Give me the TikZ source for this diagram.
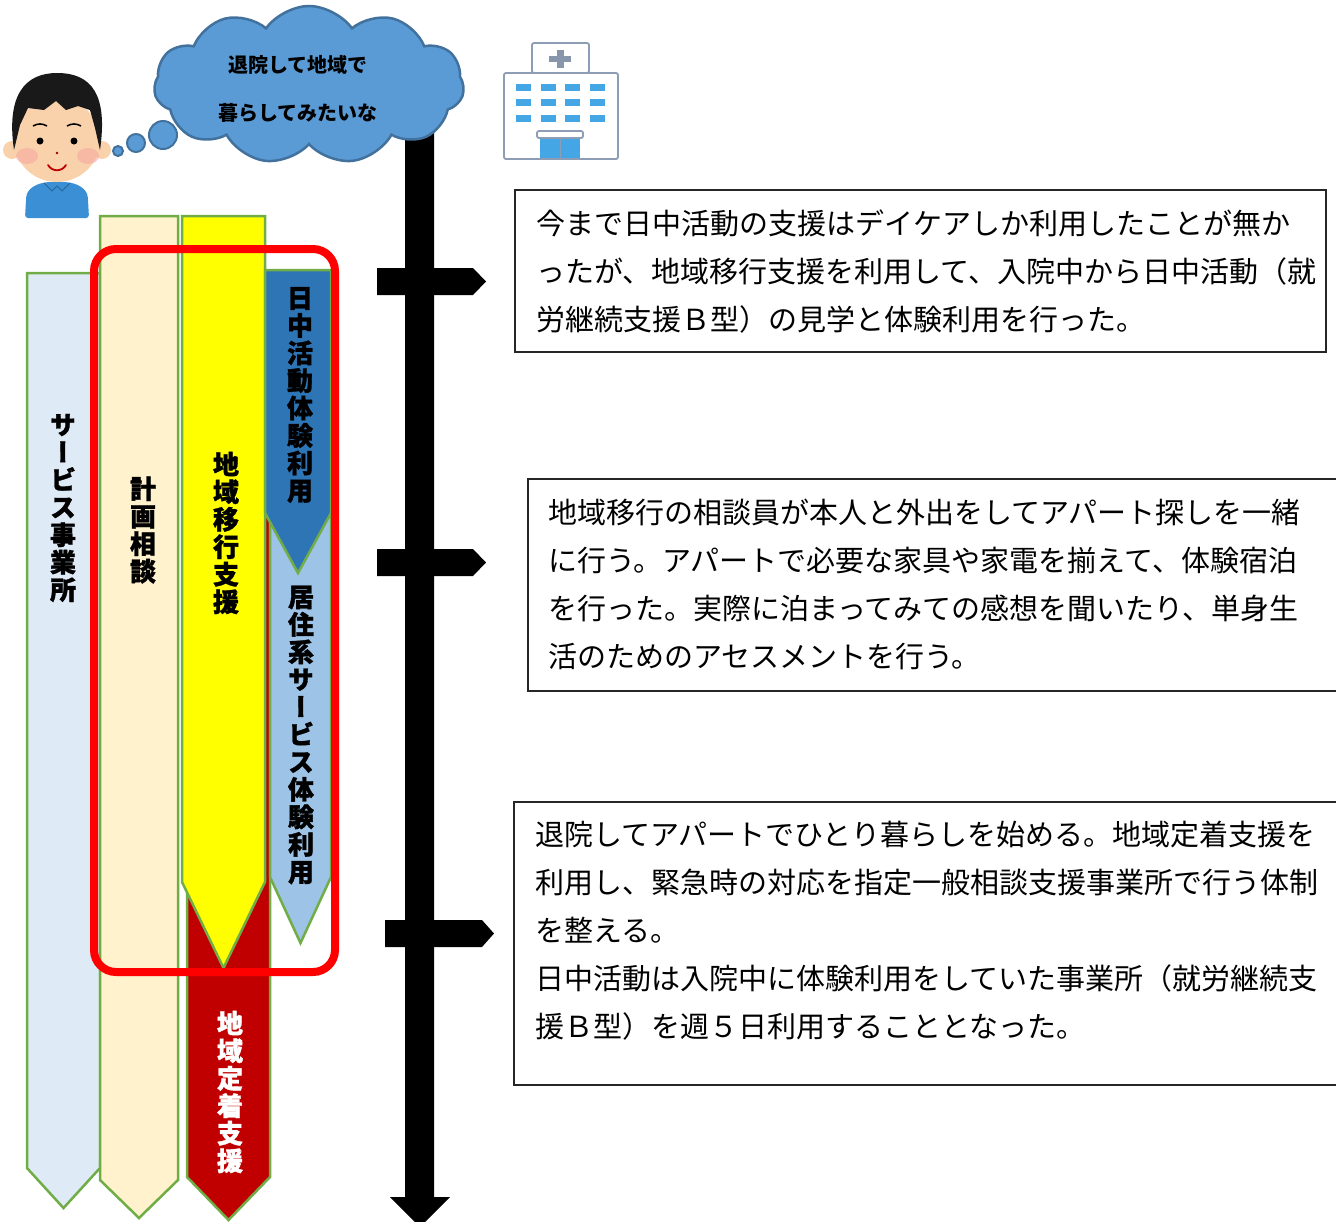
\documentclass[tikz,border=0pt]{standalone}
\usepackage{fontspec}
\newfontfamily\jp{Noto Sans CJK JP}
\newfontfamily\jpv[RawFeature=+vert, BoldFeatures={FakeBold=1.2}]{Noto Sans CJK JP}
\usetikzlibrary{shapes.symbols, calc, positioning}

\definecolor{bannerline}{HTML}{70AD47}
\definecolor{officebg}{HTML}{DEEBF7}
\definecolor{plancol}{HTML}{FFF2CC}
\definecolor{movecol}{HTML}{FFFF00}
\definecolor{settlecol}{HTML}{C00000}
\definecolor{daycol}{HTML}{2E75B6}
\definecolor{staycol}{HTML}{9DC3E6}
\definecolor{cloudfill}{HTML}{5B9BD5}
\definecolor{cloudedge}{HTML}{41719C}
\definecolor{hospline}{HTML}{8C9DB5}
\definecolor{winblue}{HTML}{45A6E6}
\definecolor{crossgray}{HTML}{8896AC}
\definecolor{skin}{HTML}{F9D2AB}
\definecolor{shirt}{HTML}{3A8FD5}
\definecolor{cheek}{HTML}{F6A7A0}

\begin{document}
\begin{tikzpicture}[x=1pt, y=-1pt,
  banner/.style = {draw=bannerline, line width=2.5},
  vlabel/.style = {align=center, inner sep=0, font=\jpv\bfseries\fontsize{26}{27.5}\selectfont},
  notebox/.style = {draw=black!85, line width=1.6, anchor=north west, inner sep=0},
  notetext/.style = {anchor=north west, align=left, inner sep=0, font=\jp\fontsize{29}{48}\selectfont},
  frame/.style = {draw=red, line width=8, rounded corners=22},
  bubble/.style = {fill=cloudfill, draw=cloudedge, line width=2}
]

% Frame
\useasboundingbox (0,0) rectangle (1336,1221);

% Banner: left, right, top, body bottom, tip, fill
\def\banner#1#2#3#4#5#6{%
  \filldraw[banner, fill=#6] (#1,#3) -- (#2,#3) -- (#2,#4) -- ({(#1+#2)/2},#5) -- (#1,#4) -- cycle;}
% Branch: left, right, tip, middle
\def\branch#1#2#3#4{%
  \fill (#1,#4-13.5) -- (#2,#4-13.5) -- (#3,#4) -- (#2,#4+13.5) -- (#1,#4+13.5) -- cycle;}

% Services, back to front
\banner{27}{100}{273}{1168}{1208}{officebg}
\banner{100}{178}{216}{1180}{1218}{plancol}
\banner{187}{270}{390}{1177}{1220}{settlecol}
\banner{182}{265}{216}{882}{968}{movecol}
\banner{270}{331}{300}{877}{943}{staycol}
\banner{265}{331}{270}{513}{573}{daycol}

\node[vlabel] (office) at (63,508) {サ\\ー\\ビ\\ス\\事\\業\\所};
\node[vlabel] (plan) at (143,530) {計\\画\\相\\談};
\node[vlabel] (move) at (226,533) {地\\域\\移\\行\\支\\援};
\node[vlabel] (day) at (300,395) {日\\中\\活\\動\\体\\験\\利\\用};
\node[vlabel] (stay) at (301,735) {居\\住\\系\\サ\\ー\\ビ\\ス\\体\\験\\利\\用};
\node[vlabel, text=white] (settle) at (230,1092) {地\\域\\定\\着\\支\\援};

% Period handled in hospital
\draw[frame] (94,249) rectangle (335,972);

% Time line
\coordinate (start) at (420,110);
\coordinate (finish) at (420,1227);
\fill ($(start)+(-15,0)$) -- ($(start)+(14,0)$) -- ($(finish)+(14,-30)$) -- ($(finish)+(30,-30)$)
  -- (finish) -- ($(finish)+(-30,-30)$) -- ($(finish)+(-15,-30)$) -- cycle;
\branch{377}{473}{486}{281.5}
\branch{377}{473}{486}{562.5}
\branch{385}{482}{494}{933.5}

% Notes
\node[notebox, minimum width=811, minimum height=162] (box1) at (514,189) {};
\node[notetext] (note1) at ($(box1.north west)+(22,21)$)
  {今まで日中活動の支援はデイケアしか利用したことが無か\\ったが、地域移行支援を利用して、入院中から日中活動（就\\労継続支援Ｂ型）の見学と体験利用を行った。};

\node[notebox, minimum width=830, minimum height=212] (box2) at (527,478) {};
\node[notetext] (note2) at ($(box2.north west)+(21,21)$)
  {地域移行の相談員が本人と外出をしてアパート探しを一緒\\に行う。アパートで必要な家具や家電を揃えて、体験宿泊\\を行った。実際に泊まってみての感想を聞いたり、単身生\\活のためのアセスメントを行う。};

\node[notebox, minimum width=840, minimum height=283] (box3) at (513,801) {};
\node[notetext] (note3) at ($(box3.north west)+(22,20)$)
  {退院してアパートでひとり暮らしを始める。地域定着支援を\\利用し、緊急時の対応を指定一般相談支援事業所で行う体制\\を整える。\\日中活動は入院中に体験利用をしていた事業所（就労継続支\\援Ｂ型）を週５日利用することとなった。};

% Hospital
\filldraw[draw=hospline, fill=white, line width=1.8, rounded corners=2] (532,43) rectangle (589,73);
\fill[crossgray] (549,56) rectangle (571,62);
\fill[crossgray] (557,50) rectangle (564,68);
\filldraw[draw=hospline, fill=white, line width=1.8, rounded corners=2] (504,73) rectangle (618,159);
\foreach \wx in {523,548,572,597}
  \foreach \wy in {87,102,118}
    \fill[winblue] (\wx-7.5,\wy-3.5) rectangle (\wx+7.5,\wy+3.5);
\fill[winblue] (540,138) rectangle (580,158);
\draw[hospline, line width=1] (560,138) -- (560,158);
\filldraw[draw=hospline, fill=white, line width=1.8, rounded corners=2] (537,131) rectangle (583,138);

% Person
\fill[shirt, rounded corners=3] (25,218) -- (26,200) .. controls (27,188) and (38,183) .. (50,182)
  -- (64,182) .. controls (76,183) and (87,188) .. (88,200) -- (89,218) -- cycle;
\draw[shirt!70!black, line width=1] (44,183) -- (52,191) -- (57,186) -- (62,191) -- (70,183);
\fill[skin] (12,150) circle (9);
\fill[skin] (102,150) circle (9);
\fill[skin] (57,140) ellipse [x radius=43, y radius=42];
\fill[black!90] (14,150) .. controls (6,95) and (25,73) .. (57,73) .. controls (92,73) and (108,95) .. (100,150)
  -- (95,128) -- (90,110) -- (78,106) -- (66,110) -- (56,101) -- (44,110) -- (28,108) -- (20,125) -- cycle;
\draw[line width=1.5] (33,126) to[bend left=30] (47,126);
\draw[line width=1.5] (67,126) to[bend left=30] (81,126);
\fill (40,141) circle (3.5);
\fill (74,141) circle (3.5);
\fill[cheek, opacity=0.6] (27,156) ellipse [x radius=11, y radius=8];
\fill[cheek, opacity=0.6] (88,156) ellipse [x radius=11, y radius=8];
\fill[red!60!black] (57,153) circle (1.3);
\draw[red!75!black, line width=1.8, line cap=round] (48,165) .. controls (52,172) and (62,172) .. (66,165);

% Thought
\draw[bubble] (118,151) circle (5);
\draw[bubble] (136,143) circle (9);
\draw[bubble] (163,135) circle (14);
\node[cloud, cloud puffs=11, cloud puff arc=110, aspect=2, minimum width=310, minimum height=158,
  fill=cloudfill, draw=cloudedge, line width=2.5] (thought) at (309,85) {};
\node[align=center, font=\jp\bfseries\fontsize{20}{48}\selectfont] (wish) at (298,89)
  {退院して地域で\\暮らしてみたいな};

\end{tikzpicture}
\end{document}
